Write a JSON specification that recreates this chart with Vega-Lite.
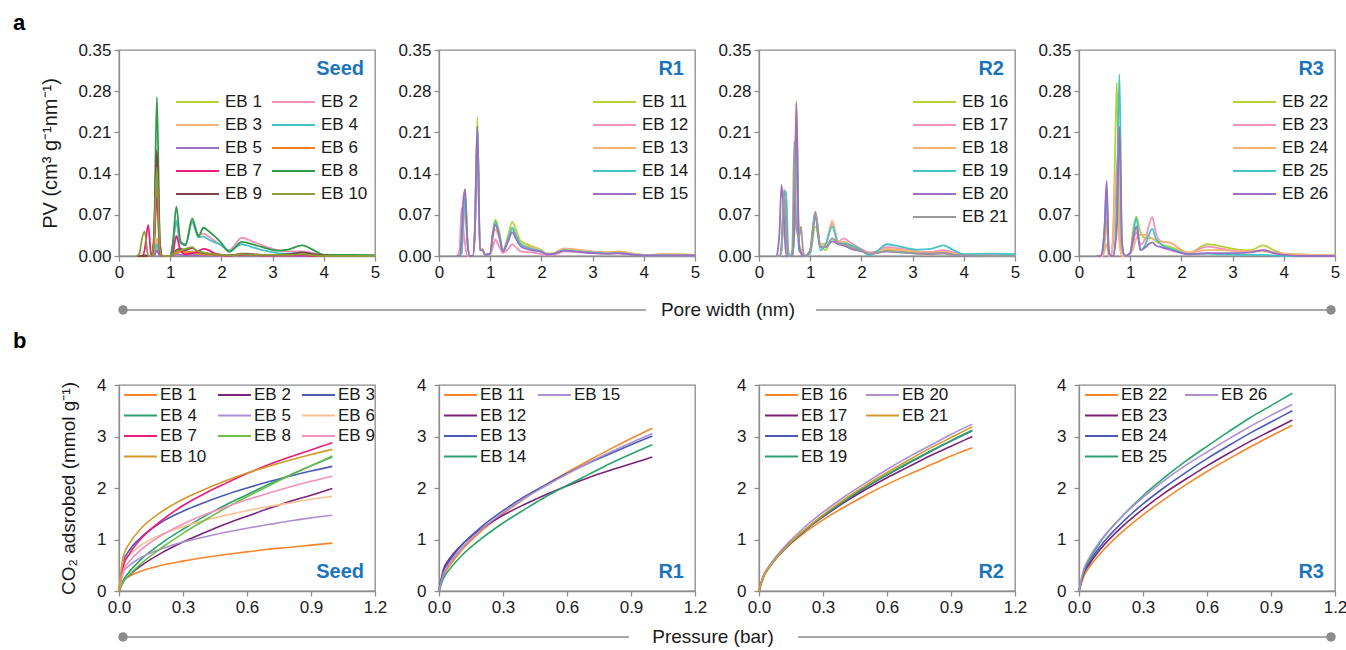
{
"$schema":"https://vega.github.io/schema/vega-lite/v6.json",
"padding":{"left":12,"top":11,"right":0,"bottom":0},
"autosize":{"type":"pad"},
"bounds":"flush",
"columns":4,
"spacing":{"row":129,"column":64},
"config":{
"font":"Liberation Sans",
"view":{"stroke":"#8c8c8c","strokeWidth":1.3},
"axis":{"grid":false,"domainColor":"#8c8c8c","domainWidth":1.3,"tickColor":"#8c8c8c","tickWidth":1.3,"tickSize":5,"labelFontSize":17,"labelColor":"#1a1a1a","labelPadding":3,"titleFontSize":19,"titleFontWeight":"normal","titleColor":"#1a1a1a","labelFlush":false,"labelOverlap":false},
"legend":{"labelFontSize":17,"labelColor":"#1a1a1a","symbolType":"stroke","padding":0,"titlePadding":0,"labelLimit":200}
},
"resolve":{"scale":{"color":"independent","stroke":"independent","x":"independent","y":"independent"},"axis":{"x":"independent","y":"independent"},"legend":{"color":"independent","stroke":"independent"}},
"datasets":{
"a1":[
{"x":0.35,"EB 1":0,"EB 2":0,"EB 3":0,"EB 4":0,"EB 5":0,"EB 6":0,"EB 7":0,"EB 8":0,"EB 9":0,"EB 10":0},
{"x":0.4,"EB 1":0,"EB 2":0,"EB 3":0,"EB 4":0,"EB 5":0,"EB 6":0,"EB 7":0,"EB 8":0,"EB 9":0,"EB 10":0.005},
{"x":0.45,"EB 1":0,"EB 2":0,"EB 3":0,"EB 4":0,"EB 5":0,"EB 6":0,"EB 7":0,"EB 8":0,"EB 9":0,"EB 10":0.03},
{"x":0.5,"EB 1":0,"EB 2":0,"EB 3":0,"EB 4":0,"EB 5":0.002,"EB 6":0,"EB 7":0.01,"EB 8":0,"EB 9":0,"EB 10":0.042},
{"x":0.57,"EB 1":0,"EB 2":0,"EB 3":0,"EB 4":0,"EB 5":0,"EB 6":0,"EB 7":0.053,"EB 8":0,"EB 9":0,"EB 10":0},
{"x":0.63,"EB 1":0,"EB 2":0,"EB 3":0,"EB 4":0,"EB 5":0,"EB 6":0,"EB 7":0,"EB 8":0,"EB 9":0,"EB 10":0},
{"x":0.68,"EB 1":0,"EB 2":0,"EB 3":0,"EB 4":0,"EB 5":0,"EB 6":0.01,"EB 7":0.02,"EB 8":0.02,"EB 9":0.03,"EB 10":0.02},
{"x":0.74,"EB 1":0.01,"EB 2":0.02,"EB 3":0.03,"EB 4":0.02,"EB 5":0.01,"EB 6":0.12,"EB 7":0.1,"EB 8":0.27,"EB 9":0.18,"EB 10":0.15},
{"x":0.8,"EB 1":0,"EB 2":0,"EB 3":0,"EB 4":0,"EB 5":0,"EB 6":0.005,"EB 7":0.005,"EB 8":0.02,"EB 9":0.02,"EB 10":0.01},
{"x":0.85,"EB 1":0,"EB 2":0,"EB 3":0,"EB 4":0,"EB 5":0,"EB 6":0,"EB 7":0,"EB 8":0,"EB 9":0,"EB 10":0},
{"x":0.9,"EB 1":0,"EB 2":0,"EB 3":0,"EB 4":0,"EB 5":0,"EB 6":0,"EB 7":0,"EB 8":0,"EB 9":0,"EB 10":0},
{"x":1.0,"EB 1":0,"EB 2":0,"EB 3":0,"EB 4":0,"EB 5":0,"EB 6":0,"EB 7":0,"EB 8":0,"EB 9":0,"EB 10":0},
{"x":1.05,"EB 1":0.002,"EB 2":0.02,"EB 3":0.002,"EB 4":0.02,"EB 5":0,"EB 6":0.002,"EB 7":0.005,"EB 8":0.02,"EB 9":0.003,"EB 10":0.003},
{"x":1.12,"EB 1":0.004,"EB 2":0.055,"EB 3":0.008,"EB 4":0.06,"EB 5":0.003,"EB 6":0.005,"EB 7":0.034,"EB 8":0.084,"EB 9":0.01,"EB 10":0.008},
{"x":1.2,"EB 1":0.002,"EB 2":0.022,"EB 3":0.006,"EB 4":0.022,"EB 5":0.002,"EB 6":0.008,"EB 7":0.01,"EB 8":0.025,"EB 9":0.012,"EB 10":0.01},
{"x":1.3,"EB 1":0.002,"EB 2":0.02,"EB 3":0.005,"EB 4":0.02,"EB 5":0.001,"EB 6":0.007,"EB 7":0.003,"EB 8":0.018,"EB 9":0.01,"EB 10":0.012},
{"x":1.43,"EB 1":0.004,"EB 2":0.06,"EB 3":0.008,"EB 4":0.057,"EB 5":0.002,"EB 6":0.006,"EB 7":0.005,"EB 8":0.064,"EB 9":0.014,"EB 10":0.015},
{"x":1.5,"EB 1":0.003,"EB 2":0.045,"EB 3":0.006,"EB 4":0.042,"EB 5":0.001,"EB 6":0.005,"EB 7":0.006,"EB 8":0.045,"EB 9":0.01,"EB 10":0.01},
{"x":1.55,"EB 1":0.002,"EB 2":0.036,"EB 3":0.005,"EB 4":0.032,"EB 5":0.001,"EB 6":0.004,"EB 7":0.008,"EB 8":0.033,"EB 9":0.007,"EB 10":0.008},
{"x":1.65,"EB 1":0.002,"EB 2":0.038,"EB 3":0.004,"EB 4":0.033,"EB 5":0.001,"EB 6":0.003,"EB 7":0.012,"EB 8":0.048,"EB 9":0.005,"EB 10":0.006},
{"x":1.75,"EB 1":0.002,"EB 2":0.033,"EB 3":0.003,"EB 4":0.028,"EB 5":0.001,"EB 6":0.002,"EB 7":0.01,"EB 8":0.042,"EB 9":0.004,"EB 10":0.004},
{"x":1.85,"EB 1":0.001,"EB 2":0.027,"EB 3":0.002,"EB 4":0.024,"EB 5":0,"EB 6":0.002,"EB 7":0.005,"EB 8":0.035,"EB 9":0.003,"EB 10":0.003},
{"x":2.0,"EB 1":0.001,"EB 2":0.018,"EB 3":0.001,"EB 4":0.018,"EB 5":0,"EB 6":0.001,"EB 7":0.002,"EB 8":0.022,"EB 9":0.002,"EB 10":0.002},
{"x":2.15,"EB 1":0,"EB 2":0.01,"EB 3":0,"EB 4":0.009,"EB 5":0,"EB 6":0.001,"EB 7":0.001,"EB 8":0.007,"EB 9":0.001,"EB 10":0.001},
{"x":2.4,"EB 1":0.002,"EB 2":0.031,"EB 3":0.002,"EB 4":0.02,"EB 5":0.001,"EB 6":0.002,"EB 7":0.002,"EB 8":0.024,"EB 9":0.004,"EB 10":0.003},
{"x":2.6,"EB 1":0.002,"EB 2":0.025,"EB 3":0.002,"EB 4":0.015,"EB 5":0.001,"EB 6":0.002,"EB 7":0.002,"EB 8":0.02,"EB 9":0.003,"EB 10":0.002},
{"x":2.8,"EB 1":0.001,"EB 2":0.018,"EB 3":0.001,"EB 4":0.01,"EB 5":0,"EB 6":0.001,"EB 7":0.001,"EB 8":0.015,"EB 9":0.002,"EB 10":0.002},
{"x":3.1,"EB 1":0.001,"EB 2":0.01,"EB 3":0.001,"EB 4":0.005,"EB 5":0,"EB 6":0.001,"EB 7":0.001,"EB 8":0.009,"EB 9":0.002,"EB 10":0.002},
{"x":3.3,"EB 1":0.001,"EB 2":0.008,"EB 3":0.001,"EB 4":0.004,"EB 5":0,"EB 6":0.001,"EB 7":0.001,"EB 8":0.011,"EB 9":0.003,"EB 10":0.002},
{"x":3.58,"EB 1":0.001,"EB 2":0.008,"EB 3":0.001,"EB 4":0.005,"EB 5":0,"EB 6":0.002,"EB 7":0.001,"EB 8":0.018,"EB 9":0.006,"EB 10":0.003},
{"x":3.8,"EB 1":0.001,"EB 2":0.005,"EB 3":0,"EB 4":0.003,"EB 5":0,"EB 6":0.001,"EB 7":0,"EB 8":0.01,"EB 9":0.003,"EB 10":0.001},
{"x":4.0,"EB 1":0,"EB 2":0.002,"EB 3":0,"EB 4":0.001,"EB 5":0,"EB 6":0,"EB 7":0,"EB 8":0.002,"EB 9":0.001,"EB 10":0},
{"x":4.5,"EB 1":0,"EB 2":0.001,"EB 3":0,"EB 4":0.001,"EB 5":0,"EB 6":0,"EB 7":0,"EB 8":0.002,"EB 9":0,"EB 10":0},
{"x":5.0,"EB 1":0,"EB 2":0.001,"EB 3":0,"EB 4":0.001,"EB 5":0,"EB 6":0,"EB 7":0,"EB 8":0.001,"EB 9":0,"EB 10":0}
],
"a2":[
{"x":0.35,"EB 11":0,"EB 12":0,"EB 13":0,"EB 14":0,"EB 15":0},
{"x":0.4,"EB 11":0,"EB 12":0.01,"EB 13":0,"EB 14":0,"EB 15":0},
{"x":0.44,"EB 11":0.005,"EB 12":0.082,"EB 13":0.005,"EB 14":0.005,"EB 15":0.03},
{"x":0.47,"EB 11":0.06,"EB 12":0.05,"EB 13":0.04,"EB 14":0.05,"EB 15":0.09},
{"x":0.51,"EB 11":0.114,"EB 12":0.02,"EB 13":0.1,"EB 14":0.1,"EB 15":0.113},
{"x":0.55,"EB 11":0.04,"EB 12":0,"EB 13":0.03,"EB 14":0.03,"EB 15":0.03},
{"x":0.6,"EB 11":0,"EB 12":0,"EB 13":0,"EB 14":0,"EB 15":0},
{"x":0.66,"EB 11":0,"EB 12":0,"EB 13":0,"EB 14":0,"EB 15":0},
{"x":0.7,"EB 11":0.05,"EB 12":0.04,"EB 13":0.04,"EB 14":0.04,"EB 15":0.04},
{"x":0.75,"EB 11":0.236,"EB 12":0.2,"EB 13":0.21,"EB 14":0.22,"EB 15":0.22},
{"x":0.8,"EB 11":0.01,"EB 12":0.01,"EB 13":0.01,"EB 14":0.01,"EB 15":0.01},
{"x":0.85,"EB 11":0.012,"EB 12":0.01,"EB 13":0.012,"EB 14":0.01,"EB 15":0.01},
{"x":0.9,"EB 11":0.002,"EB 12":0.002,"EB 13":0.002,"EB 14":0.002,"EB 15":0.002},
{"x":1.0,"EB 11":0.005,"EB 12":0.003,"EB 13":0.004,"EB 14":0.004,"EB 15":0.004},
{"x":1.05,"EB 11":0.04,"EB 12":0.015,"EB 13":0.03,"EB 14":0.038,"EB 15":0.035},
{"x":1.1,"EB 11":0.062,"EB 12":0.028,"EB 13":0.045,"EB 14":0.058,"EB 15":0.053},
{"x":1.18,"EB 11":0.04,"EB 12":0.015,"EB 13":0.03,"EB 14":0.035,"EB 15":0.032},
{"x":1.25,"EB 11":0.01,"EB 12":0.005,"EB 13":0.008,"EB 14":0.008,"EB 15":0.008},
{"x":1.35,"EB 11":0.035,"EB 12":0.012,"EB 13":0.03,"EB 14":0.03,"EB 15":0.025},
{"x":1.43,"EB 11":0.058,"EB 12":0.02,"EB 13":0.045,"EB 14":0.048,"EB 15":0.04},
{"x":1.5,"EB 11":0.045,"EB 12":0.015,"EB 13":0.035,"EB 14":0.036,"EB 15":0.03},
{"x":1.6,"EB 11":0.025,"EB 12":0.008,"EB 13":0.02,"EB 14":0.02,"EB 15":0.016},
{"x":1.8,"EB 11":0.017,"EB 12":0.006,"EB 13":0.015,"EB 14":0.012,"EB 15":0.01},
{"x":2.0,"EB 11":0.01,"EB 12":0.003,"EB 13":0.009,"EB 14":0.008,"EB 15":0.007},
{"x":2.1,"EB 11":0.004,"EB 12":0.001,"EB 13":0.004,"EB 14":0.003,"EB 15":0.003},
{"x":2.2,"EB 11":0.004,"EB 12":0.001,"EB 13":0.004,"EB 14":0.003,"EB 15":0.003},
{"x":2.45,"EB 11":0.012,"EB 12":0.008,"EB 13":0.013,"EB 14":0.01,"EB 15":0.009},
{"x":2.7,"EB 11":0.01,"EB 12":0.007,"EB 13":0.011,"EB 14":0.008,"EB 15":0.007},
{"x":3.0,"EB 11":0.007,"EB 12":0.005,"EB 13":0.008,"EB 14":0.006,"EB 15":0.005},
{"x":3.3,"EB 11":0.006,"EB 12":0.004,"EB 13":0.006,"EB 14":0.004,"EB 15":0.004},
{"x":3.5,"EB 11":0.008,"EB 12":0.004,"EB 13":0.007,"EB 14":0.005,"EB 15":0.005},
{"x":3.8,"EB 11":0.004,"EB 12":0.002,"EB 13":0.004,"EB 14":0.002,"EB 15":0.002},
{"x":4.0,"EB 11":0.002,"EB 12":0.001,"EB 13":0.002,"EB 14":0.001,"EB 15":0.001},
{"x":4.5,"EB 11":0.003,"EB 12":0.001,"EB 13":0.003,"EB 14":0.001,"EB 15":0.001},
{"x":5.0,"EB 11":0.002,"EB 12":0.001,"EB 13":0.002,"EB 14":0.001,"EB 15":0.001}
],
"a3":[
{"x":0.35,"EB 16":0,"EB 17":0,"EB 18":0,"EB 19":0,"EB 20":0,"EB 21":0},
{"x":0.4,"EB 16":0,"EB 17":0,"EB 18":0,"EB 19":0,"EB 20":0.04,"EB 21":0},
{"x":0.44,"EB 16":0.01,"EB 17":0.01,"EB 18":0.01,"EB 19":0.01,"EB 20":0.121,"EB 21":0.02},
{"x":0.49,"EB 16":0.1,"EB 17":0.1,"EB 18":0.1,"EB 19":0.1,"EB 20":0.06,"EB 21":0.113},
{"x":0.53,"EB 16":0.03,"EB 17":0.03,"EB 18":0.03,"EB 19":0.11,"EB 20":0,"EB 21":0.05},
{"x":0.57,"EB 16":0,"EB 17":0,"EB 18":0,"EB 19":0.01,"EB 20":0,"EB 21":0},
{"x":0.61,"EB 16":0,"EB 17":0,"EB 18":0,"EB 19":0,"EB 20":0,"EB 21":0},
{"x":0.65,"EB 16":0,"EB 17":0,"EB 18":0,"EB 19":0,"EB 20":0,"EB 21":0.01},
{"x":0.69,"EB 16":0.04,"EB 17":0.05,"EB 18":0.05,"EB 19":0.04,"EB 20":0.06,"EB 21":0.195},
{"x":0.73,"EB 16":0.2,"EB 17":0.24,"EB 18":0.264,"EB 19":0.183,"EB 20":0.26,"EB 21":0.05},
{"x":0.78,"EB 16":0.02,"EB 17":0.02,"EB 18":0.02,"EB 19":0.01,"EB 20":0.02,"EB 21":0.03},
{"x":0.82,"EB 16":0.01,"EB 17":0.01,"EB 18":0.01,"EB 19":0.005,"EB 20":0.005,"EB 21":0.05},
{"x":0.86,"EB 16":0,"EB 17":0,"EB 18":0,"EB 19":0,"EB 20":0,"EB 21":0.01},
{"x":0.9,"EB 16":0,"EB 17":0,"EB 18":0,"EB 19":0,"EB 20":0,"EB 21":0},
{"x":1.0,"EB 16":0.005,"EB 17":0.01,"EB 18":0.01,"EB 19":0.005,"EB 20":0.01,"EB 21":0.01},
{"x":1.1,"EB 16":0.05,"EB 17":0.075,"EB 18":0.075,"EB 19":0.065,"EB 20":0.07,"EB 21":0.075},
{"x":1.2,"EB 16":0.02,"EB 17":0.02,"EB 18":0.02,"EB 19":0.01,"EB 20":0.015,"EB 21":0.015},
{"x":1.3,"EB 16":0.01,"EB 17":0.02,"EB 18":0.02,"EB 19":0.02,"EB 20":0.015,"EB 21":0.015},
{"x":1.43,"EB 16":0.03,"EB 17":0.055,"EB 18":0.06,"EB 19":0.05,"EB 20":0.025,"EB 21":0.03},
{"x":1.55,"EB 16":0.02,"EB 17":0.025,"EB 18":0.022,"EB 19":0.02,"EB 20":0.02,"EB 21":0.022},
{"x":1.65,"EB 16":0.02,"EB 17":0.03,"EB 18":0.025,"EB 19":0.022,"EB 20":0.018,"EB 21":0.02},
{"x":1.8,"EB 16":0.015,"EB 17":0.022,"EB 18":0.018,"EB 19":0.018,"EB 20":0.012,"EB 21":0.014},
{"x":2.0,"EB 16":0.01,"EB 17":0.012,"EB 18":0.01,"EB 19":0.01,"EB 20":0.008,"EB 21":0.009},
{"x":2.15,"EB 16":0.005,"EB 17":0.006,"EB 18":0.005,"EB 19":0.001,"EB 20":0.004,"EB 21":0.004},
{"x":2.3,"EB 16":0.006,"EB 17":0.008,"EB 18":0.007,"EB 19":0.008,"EB 20":0.005,"EB 21":0.005},
{"x":2.5,"EB 16":0.01,"EB 17":0.015,"EB 18":0.012,"EB 19":0.02,"EB 20":0.008,"EB 21":0.008},
{"x":2.8,"EB 16":0.008,"EB 17":0.012,"EB 18":0.01,"EB 19":0.015,"EB 20":0.006,"EB 21":0.006},
{"x":3.1,"EB 16":0.006,"EB 17":0.008,"EB 18":0.007,"EB 19":0.011,"EB 20":0.004,"EB 21":0.004},
{"x":3.35,"EB 16":0.005,"EB 17":0.007,"EB 18":0.006,"EB 19":0.012,"EB 20":0.004,"EB 21":0.003},
{"x":3.6,"EB 16":0.008,"EB 17":0.01,"EB 18":0.007,"EB 19":0.018,"EB 20":0.005,"EB 21":0.004},
{"x":3.8,"EB 16":0.004,"EB 17":0.006,"EB 18":0.004,"EB 19":0.01,"EB 20":0.002,"EB 21":0.002},
{"x":4.0,"EB 16":0.002,"EB 17":0.002,"EB 18":0.002,"EB 19":0.003,"EB 20":0.001,"EB 21":0.001},
{"x":4.5,"EB 16":0.001,"EB 17":0.002,"EB 18":0.001,"EB 19":0.004,"EB 20":0,"EB 21":0},
{"x":5.0,"EB 16":0.001,"EB 17":0.002,"EB 18":0.001,"EB 19":0.003,"EB 20":0,"EB 21":0}
],
"a4":[
{"x":0.35,"EB 22":0,"EB 23":0,"EB 24":0,"EB 25":0,"EB 26":0},
{"x":0.42,"EB 22":0,"EB 23":0,"EB 24":0,"EB 25":0,"EB 26":0},
{"x":0.46,"EB 22":0,"EB 23":0,"EB 24":0,"EB 25":0.01,"EB 26":0.01},
{"x":0.5,"EB 22":0.02,"EB 23":0.03,"EB 24":0.01,"EB 25":0.05,"EB 26":0.05},
{"x":0.54,"EB 22":0.06,"EB 23":0.1,"EB 24":0.02,"EB 25":0.115,"EB 26":0.128},
{"x":0.58,"EB 22":0,"EB 23":0.01,"EB 24":0,"EB 25":0.01,"EB 26":0.01},
{"x":0.62,"EB 22":0,"EB 23":0,"EB 24":0,"EB 25":0,"EB 26":0},
{"x":0.67,"EB 22":0.05,"EB 23":0.03,"EB 24":0.04,"EB 25":0,"EB 26":0},
{"x":0.71,"EB 22":0.2,"EB 23":0.1,"EB 24":0.14,"EB 25":0.03,"EB 26":0.02},
{"x":0.74,"EB 22":0.295,"EB 23":0.15,"EB 24":0.1,"EB 25":0.1,"EB 26":0.05},
{"x":0.79,"EB 22":0.05,"EB 23":0.18,"EB 24":0.02,"EB 25":0.309,"EB 26":0.22},
{"x":0.84,"EB 22":0,"EB 23":0.01,"EB 24":0,"EB 25":0.02,"EB 26":0.02},
{"x":0.9,"EB 22":0,"EB 23":0,"EB 24":0,"EB 25":0,"EB 26":0},
{"x":1.0,"EB 22":0.005,"EB 23":0.005,"EB 24":0.005,"EB 25":0.005,"EB 26":0.005},
{"x":1.05,"EB 22":0.04,"EB 23":0.02,"EB 24":0.01,"EB 25":0.03,"EB 26":0.025},
{"x":1.12,"EB 22":0.067,"EB 23":0.04,"EB 24":0.03,"EB 25":0.065,"EB 26":0.05},
{"x":1.2,"EB 22":0.04,"EB 23":0.02,"EB 24":0.036,"EB 25":0.01,"EB 26":0.01},
{"x":1.3,"EB 22":0.03,"EB 23":0.03,"EB 24":0.036,"EB 25":0.02,"EB 26":0.015},
{"x":1.36,"EB 22":0.03,"EB 23":0.05,"EB 24":0.033,"EB 25":0.035,"EB 26":0.02},
{"x":1.43,"EB 22":0.03,"EB 23":0.066,"EB 24":0.03,"EB 25":0.046,"EB 26":0.023},
{"x":1.5,"EB 22":0.025,"EB 23":0.04,"EB 24":0.027,"EB 25":0.03,"EB 26":0.018},
{"x":1.6,"EB 22":0.02,"EB 23":0.025,"EB 24":0.025,"EB 25":0.02,"EB 26":0.015},
{"x":1.8,"EB 22":0.015,"EB 23":0.022,"EB 24":0.022,"EB 25":0.012,"EB 26":0.01},
{"x":2.0,"EB 22":0.008,"EB 23":0.01,"EB 24":0.01,"EB 25":0.006,"EB 26":0.005},
{"x":2.15,"EB 22":0.005,"EB 23":0.005,"EB 24":0.006,"EB 25":0.003,"EB 26":0.003},
{"x":2.5,"EB 22":0.02,"EB 23":0.016,"EB 24":0.01,"EB 25":0.004,"EB 26":0.005},
{"x":2.8,"EB 22":0.016,"EB 23":0.012,"EB 24":0.01,"EB 25":0.003,"EB 26":0.005},
{"x":3.1,"EB 22":0.011,"EB 23":0.008,"EB 24":0.009,"EB 25":0.002,"EB 26":0.005},
{"x":3.35,"EB 22":0.01,"EB 23":0.008,"EB 24":0.008,"EB 25":0.002,"EB 26":0.006},
{"x":3.6,"EB 22":0.018,"EB 23":0.01,"EB 24":0.008,"EB 25":0.002,"EB 26":0.01},
{"x":3.8,"EB 22":0.01,"EB 23":0.006,"EB 24":0.005,"EB 25":0.001,"EB 26":0.005},
{"x":4.0,"EB 22":0.004,"EB 23":0.003,"EB 24":0.004,"EB 25":0,"EB 26":0.002},
{"x":4.5,"EB 22":0.002,"EB 23":0.001,"EB 24":0.002,"EB 25":0,"EB 26":0},
{"x":5.0,"EB 22":0.001,"EB 23":0.001,"EB 24":0.001,"EB 25":0,"EB 26":0}
],
"b1":[
{"p":0,"EB 1":0,"EB 2":0,"EB 3":0,"EB 4":0,"EB 5":0,"EB 6":0,"EB 7":0,"EB 8":0,"EB 9":0,"EB 10":0},
{"p":0.02,"EB 1":0.2,"EB 2":0.18,"EB 3":0.57,"EB 4":0.21,"EB 5":0.36,"EB 6":0.53,"EB 7":0.48,"EB 8":0.17,"EB 9":0.39,"EB 10":0.67},
{"p":0.05,"EB 1":0.29,"EB 2":0.31,"EB 3":0.8,"EB 4":0.38,"EB 5":0.5,"EB 6":0.7,"EB 7":0.73,"EB 8":0.32,"EB 9":0.58,"EB 10":0.93},
{"p":0.1,"EB 1":0.38,"EB 2":0.48,"EB 3":1.03,"EB 4":0.6,"EB 5":0.64,"EB 6":0.88,"EB 7":1.0,"EB 8":0.52,"EB 9":0.79,"EB 10":1.2},
{"p":0.2,"EB 1":0.5,"EB 2":0.74,"EB 3":1.34,"EB 4":0.93,"EB 5":0.82,"EB 6":1.1,"EB 7":1.37,"EB 8":0.84,"EB 9":1.08,"EB 10":1.54},
{"p":0.3,"EB 1":0.58,"EB 2":0.95,"EB 3":1.55,"EB 4":1.2,"EB 5":0.95,"EB 6":1.25,"EB 7":1.66,"EB 8":1.12,"EB 9":1.3,"EB 10":1.78},
{"p":0.4,"EB 1":0.65,"EB 2":1.13,"EB 3":1.72,"EB 4":1.45,"EB 5":1.05,"EB 6":1.37,"EB 7":1.89,"EB 8":1.37,"EB 9":1.48,"EB 10":1.97},
{"p":0.5,"EB 1":0.71,"EB 2":1.3,"EB 3":1.87,"EB 4":1.67,"EB 5":1.14,"EB 6":1.47,"EB 7":2.09,"EB 8":1.61,"EB 9":1.63,"EB 10":2.14},
{"p":0.6,"EB 1":0.76,"EB 2":1.45,"EB 3":2.0,"EB 4":1.87,"EB 5":1.22,"EB 6":1.56,"EB 7":2.28,"EB 8":1.83,"EB 9":1.77,"EB 10":2.29},
{"p":0.7,"EB 1":0.81,"EB 2":1.6,"EB 3":2.12,"EB 4":2.07,"EB 5":1.29,"EB 6":1.64,"EB 7":2.45,"EB 8":2.04,"EB 9":1.9,"EB 10":2.42},
{"p":0.8,"EB 1":0.85,"EB 2":1.74,"EB 3":2.23,"EB 4":2.25,"EB 5":1.36,"EB 6":1.71,"EB 7":2.6,"EB 8":2.24,"EB 9":2.02,"EB 10":2.54},
{"p":0.9,"EB 1":0.89,"EB 2":1.86,"EB 3":2.33,"EB 4":2.43,"EB 5":1.42,"EB 6":1.78,"EB 7":2.74,"EB 8":2.43,"EB 9":2.13,"EB 10":2.65},
{"p":1.0,"EB 1":0.93,"EB 2":1.99,"EB 3":2.42,"EB 4":2.6,"EB 5":1.47,"EB 6":1.84,"EB 7":2.88,"EB 8":2.62,"EB 9":2.23,"EB 10":2.75}
],
"b2":[
{"p":0,"EB 11":0,"EB 12":0,"EB 13":0,"EB 14":0,"EB 15":0},
{"p":0.02,"EB 11":0.28,"EB 12":0.41,"EB 13":0.36,"EB 14":0.24,"EB 15":0.32},
{"p":0.05,"EB 11":0.49,"EB 12":0.63,"EB 13":0.59,"EB 14":0.42,"EB 15":0.54},
{"p":0.1,"EB 11":0.76,"EB 12":0.87,"EB 13":0.86,"EB 14":0.66,"EB 15":0.8},
{"p":0.2,"EB 11":1.17,"EB 12":1.21,"EB 13":1.25,"EB 14":1.02,"EB 15":1.2},
{"p":0.3,"EB 11":1.5,"EB 12":1.47,"EB 13":1.56,"EB 14":1.32,"EB 15":1.52},
{"p":0.4,"EB 11":1.79,"EB 12":1.68,"EB 13":1.83,"EB 14":1.58,"EB 15":1.8},
{"p":0.5,"EB 11":2.06,"EB 12":1.87,"EB 13":2.06,"EB 14":1.83,"EB 15":2.04},
{"p":0.6,"EB 11":2.3,"EB 12":2.04,"EB 13":2.28,"EB 14":2.05,"EB 15":2.27},
{"p":0.7,"EB 11":2.53,"EB 12":2.2,"EB 13":2.48,"EB 14":2.26,"EB 15":2.49},
{"p":0.8,"EB 11":2.75,"EB 12":2.34,"EB 13":2.66,"EB 14":2.47,"EB 15":2.69},
{"p":0.9,"EB 11":2.96,"EB 12":2.47,"EB 13":2.84,"EB 14":2.66,"EB 15":2.88},
{"p":1.0,"EB 11":3.16,"EB 12":2.6,"EB 13":3.01,"EB 14":2.84,"EB 15":3.06}
],
"b3":[
{"p":0,"EB 16":0,"EB 17":0,"EB 18":0,"EB 19":0,"EB 20":0,"EB 21":0},
{"p":0.02,"EB 16":0.29,"EB 17":0.28,"EB 18":0.26,"EB 19":0.27,"EB 20":0.28,"EB 21":0.26},
{"p":0.05,"EB 16":0.49,"EB 17":0.48,"EB 18":0.47,"EB 19":0.47,"EB 20":0.5,"EB 21":0.47},
{"p":0.1,"EB 16":0.73,"EB 17":0.74,"EB 18":0.72,"EB 19":0.73,"EB 20":0.77,"EB 21":0.73},
{"p":0.2,"EB 16":1.09,"EB 17":1.13,"EB 18":1.12,"EB 19":1.13,"EB 20":1.19,"EB 21":1.14},
{"p":0.3,"EB 16":1.38,"EB 17":1.44,"EB 18":1.45,"EB 19":1.46,"EB 20":1.53,"EB 21":1.48},
{"p":0.4,"EB 16":1.63,"EB 17":1.72,"EB 18":1.74,"EB 19":1.75,"EB 20":1.83,"EB 21":1.78},
{"p":0.5,"EB 16":1.86,"EB 17":1.97,"EB 18":2.01,"EB 19":2.02,"EB 20":2.1,"EB 21":2.05},
{"p":0.6,"EB 16":2.07,"EB 17":2.2,"EB 18":2.25,"EB 19":2.26,"EB 20":2.36,"EB 21":2.3},
{"p":0.7,"EB 16":2.26,"EB 17":2.41,"EB 18":2.48,"EB 19":2.49,"EB 20":2.6,"EB 21":2.54},
{"p":0.8,"EB 16":2.44,"EB 17":2.62,"EB 18":2.7,"EB 19":2.71,"EB 20":2.82,"EB 21":2.77},
{"p":0.9,"EB 16":2.62,"EB 17":2.81,"EB 18":2.91,"EB 19":2.92,"EB 20":3.04,"EB 21":2.98},
{"p":1.0,"EB 16":2.78,"EB 17":3.0,"EB 18":3.11,"EB 19":3.12,"EB 20":3.24,"EB 21":3.19}
],
"b4":[
{"p":0,"EB 22":0,"EB 23":0,"EB 24":0,"EB 25":0,"EB 26":0},
{"p":0.02,"EB 22":0.26,"EB 23":0.31,"EB 24":0.33,"EB 25":0.36,"EB 26":0.39},
{"p":0.05,"EB 22":0.47,"EB 23":0.53,"EB 24":0.57,"EB 25":0.62,"EB 26":0.66},
{"p":0.1,"EB 22":0.73,"EB 23":0.81,"EB 24":0.87,"EB 25":0.95,"EB 26":0.97},
{"p":0.2,"EB 22":1.14,"EB 23":1.24,"EB 24":1.32,"EB 25":1.44,"EB 26":1.44},
{"p":0.3,"EB 22":1.48,"EB 23":1.59,"EB 24":1.69,"EB 25":1.85,"EB 26":1.82},
{"p":0.4,"EB 22":1.78,"EB 23":1.9,"EB 24":2.01,"EB 25":2.2,"EB 26":2.15},
{"p":0.5,"EB 22":2.06,"EB 23":2.17,"EB 24":2.3,"EB 25":2.52,"EB 26":2.44},
{"p":0.6,"EB 22":2.32,"EB 23":2.43,"EB 24":2.57,"EB 25":2.81,"EB 26":2.7},
{"p":0.7,"EB 22":2.56,"EB 23":2.67,"EB 24":2.82,"EB 25":3.09,"EB 26":2.95},
{"p":0.8,"EB 22":2.79,"EB 23":2.9,"EB 24":3.06,"EB 25":3.36,"EB 26":3.19},
{"p":0.9,"EB 22":3.01,"EB 23":3.11,"EB 24":3.28,"EB 25":3.6,"EB 26":3.41},
{"p":1.0,"EB 22":3.22,"EB 23":3.32,"EB 24":3.5,"EB 25":3.84,"EB 26":3.62}
]
},
"concat":[
{
"width":256,"height":206,
"title":{"text":"a","anchor":"start","frame":"group","dx":-106,"offset":6,"fontSize":22,"fontWeight":"bold","color":"#000000"},
"layer":[
{"layer":[
{"data":{"name":"a1"},
"transform":[{"fold":["EB 1","EB 2","EB 3","EB 4","EB 5","EB 6","EB 7","EB 8","EB 9","EB 10"],"as":["s","v"]}],
"mark":{"type":"line","interpolate":"monotone","strokeWidth":1.8},
"encoding":{
"x":{"field":"x","type":"quantitative","scale":{"domain":[0,5],"nice":false},"axis":{"values":[0,1,2,3,4,5],"title":null}},
"y":{"field":"v","type":"quantitative","scale":{"domain":[0,0.35],"nice":false},"axis":{"values":[0,0.07,0.14,0.21,0.28,0.35],"format":".2f","title":"PV (cm³ g⁻¹nm⁻¹)","titlePadding":17,"titleFontSize":20}},
"color":{"field":"s","type":"nominal","scale":{"domain":["EB 1","EB 2","EB 3","EB 4","EB 5","EB 6","EB 7","EB 8","EB 9","EB 10"],"range":["#b5d334","#f391bd","#f7b27a","#45c3c6","#9b6fc3","#f07f22","#ec1c7c","#2d9c47","#7d4544","#8f9b3c"]},
"legend":{"orient":"none","direction":"horizontal","legendX":56,"legendY":43,"columns":2,"title":null,"symbolSize":1849,"symbolStrokeWidth":2,"clipHeight":18,"rowPadding":5,"columnPadding":9,"labelOffset":5}}
}},
{"data":{"values":[{}]},
"mark":{"type":"text","text":"Seed","align":"right","baseline":"top","dx":-11,"dy":9,"fontSize":20,"fontWeight":"bold","color":"#1c75bc"},
"encoding":{"x":{"datum":5,"type":"quantitative"},"y":{"datum":0.35,"type":"quantitative"}}}
]},
{"data":{"values":[{}]},
"layer":[
{"mark":{"type":"rule","color":"#8c8c8c","strokeWidth":1.5},"encoding":{"x":{"datum":0.0033,"type":"quantitative","scale":{"domain":[0,0.21053],"nice":false,"zero":false},"axis":null},"x2":{"datum":0.4334},"y":{"datum":-0.262,"type":"quantitative","scale":{"domain":[0,1],"nice":false},"axis":null}}},
{"mark":{"type":"rule","color":"#8c8c8c","strokeWidth":1.5},"encoding":{"x":{"datum":0.5732,"type":"quantitative"},"x2":{"datum":0.9967},"y":{"datum":-0.262,"type":"quantitative"}}},
{"mark":{"type":"circle","color":"#8c8c8c","size":90,"opacity":1},"encoding":{"x":{"datum":0.0033,"type":"quantitative"},"y":{"datum":-0.262,"type":"quantitative"}}},
{"mark":{"type":"circle","color":"#8c8c8c","size":90,"opacity":1},"encoding":{"x":{"datum":0.9967,"type":"quantitative"},"y":{"datum":-0.262,"type":"quantitative"}}},
{"mark":{"type":"text","text":"Pore width (nm)","fontSize":19,"color":"#1a1a1a","baseline":"middle"},"encoding":{"x":{"datum":0.5008,"type":"quantitative"},"y":{"datum":-0.262,"type":"quantitative"}}}
]}
],
"resolve":{"scale":{"x":"independent","y":"independent"}}
},
{
"width":256,"height":206,
"layer":[
{"data":{"name":"a2"},
"transform":[{"fold":["EB 11","EB 12","EB 13","EB 14","EB 15"],"as":["s","v"]}],
"mark":{"type":"line","interpolate":"monotone","strokeWidth":1.8},
"encoding":{
"x":{"field":"x","type":"quantitative","scale":{"domain":[0,5],"nice":false},"axis":{"values":[0,1,2,3,4,5],"title":null}},
"y":{"field":"v","type":"quantitative","scale":{"domain":[0,0.35],"nice":false},"axis":{"values":[0,0.07,0.14,0.21,0.28,0.35],"format":".2f","title":null}},
"color":{"field":"s","type":"nominal","scale":{"domain":["EB 11","EB 12","EB 13","EB 14","EB 15"],"range":["#b5d334","#f391bd","#f7b27a","#45c3c6","#9b6fc3"]},
"legend":{"orient":"none","legendX":153,"legendY":43,"title":null,"symbolSize":1849,"symbolStrokeWidth":2,"clipHeight":18,"rowPadding":5,"labelOffset":5}}
}},
{"data":{"values":[{}]},
"mark":{"type":"text","text":"R1","align":"right","baseline":"top","dx":-11,"dy":9,"fontSize":20,"fontWeight":"bold","color":"#1c75bc"},
"encoding":{"x":{"datum":5,"type":"quantitative"},"y":{"datum":0.35,"type":"quantitative"}}}
]
},
{
"width":256,"height":206,
"layer":[
{"data":{"name":"a3"},
"transform":[{"fold":["EB 16","EB 17","EB 18","EB 19","EB 20","EB 21"],"as":["s","v"]}],
"mark":{"type":"line","interpolate":"monotone","strokeWidth":1.8},
"encoding":{
"x":{"field":"x","type":"quantitative","scale":{"domain":[0,5],"nice":false},"axis":{"values":[0,1,2,3,4,5],"title":null}},
"y":{"field":"v","type":"quantitative","scale":{"domain":[0,0.35],"nice":false},"axis":{"values":[0,0.07,0.14,0.21,0.28,0.35],"format":".2f","title":null}},
"color":{"field":"s","type":"nominal","scale":{"domain":["EB 16","EB 17","EB 18","EB 19","EB 20","EB 21"],"range":["#b5d334","#f391bd","#f7b27a","#45c3c6","#9b6fc3","#9a9a9a"]},
"legend":{"orient":"none","legendX":153,"legendY":43,"title":null,"symbolSize":1849,"symbolStrokeWidth":2,"clipHeight":18,"rowPadding":5,"labelOffset":5}}
}},
{"data":{"values":[{}]},
"mark":{"type":"text","text":"R2","align":"right","baseline":"top","dx":-11,"dy":9,"fontSize":20,"fontWeight":"bold","color":"#1c75bc"},
"encoding":{"x":{"datum":5,"type":"quantitative"},"y":{"datum":0.35,"type":"quantitative"}}}
]
},
{
"width":256,"height":206,
"layer":[
{"data":{"name":"a4"},
"transform":[{"fold":["EB 22","EB 23","EB 24","EB 25","EB 26"],"as":["s","v"]}],
"mark":{"type":"line","interpolate":"monotone","strokeWidth":1.8},
"encoding":{
"x":{"field":"x","type":"quantitative","scale":{"domain":[0,5],"nice":false},"axis":{"values":[0,1,2,3,4,5],"title":null}},
"y":{"field":"v","type":"quantitative","scale":{"domain":[0,0.35],"nice":false},"axis":{"values":[0,0.07,0.14,0.21,0.28,0.35],"format":".2f","title":null}},
"color":{"field":"s","type":"nominal","scale":{"domain":["EB 22","EB 23","EB 24","EB 25","EB 26"],"range":["#b5d334","#f391bd","#f7b27a","#45c3c6","#9b6fc3"]},
"legend":{"orient":"none","legendX":153,"legendY":43,"title":null,"symbolSize":1849,"symbolStrokeWidth":2,"clipHeight":18,"rowPadding":5,"labelOffset":5}}
}},
{"data":{"values":[{}]},
"mark":{"type":"text","text":"R3","align":"right","baseline":"top","dx":-11,"dy":9,"fontSize":20,"fontWeight":"bold","color":"#1c75bc"},
"encoding":{"x":{"datum":5,"type":"quantitative"},"y":{"datum":0.35,"type":"quantitative"}}}
]
},
{
"width":256,"height":206,
"title":{"text":"b","anchor":"start","frame":"group","dx":-106,"offset":23,"fontSize":22,"fontWeight":"bold","color":"#000000"},
"layer":[
{"layer":[
{"data":{"name":"b1"},
"transform":[{"fold":["EB 1","EB 2","EB 3","EB 4","EB 5","EB 6","EB 7","EB 8","EB 9","EB 10"],"as":["s","v"]}],
"mark":{"type":"line","interpolate":"monotone","strokeWidth":1.6},
"encoding":{
"x":{"field":"p","type":"quantitative","scale":{"domain":[0,1.2],"nice":false},"axis":{"values":[0,0.3,0.6,0.9,1.2],"format":".1f","title":null}},
"y":{"field":"v","type":"quantitative","scale":{"domain":[0,4],"nice":false},"axis":{"values":[0,1,2,3,4],"format":"d","labelPadding":8,"title":"CO₂ adsrobed (mmol g⁻¹)","titlePadding":18}},
"color":{"field":"s","type":"nominal","scale":{"domain":["EB 1","EB 2","EB 3","EB 4","EB 5","EB 6","EB 7","EB 8","EB 9","EB 10"],"range":["#f7862a","#7b2379","#4b5bb5","#2aa36b","#ad8fd2","#f9c08f","#ec1c7c","#6cc04a","#f391bd","#d29a2b"]},
"legend":{"orient":"none","direction":"horizontal","legendX":4,"legendY":2,"columns":3,"title":null,"symbolSize":1089,"symbolStrokeWidth":2,"clipHeight":16,"rowPadding":3.5,"columnPadding":10,"labelOffset":2}}
}},
{"data":{"values":[{}]},
"mark":{"type":"text","text":"Seed","align":"right","baseline":"alphabetic","dx":-11,"dy":-13,"fontSize":20,"fontWeight":"bold","color":"#1c75bc"},
"encoding":{"x":{"datum":1.2,"type":"quantitative"},"y":{"datum":0,"type":"quantitative"}}}
]},
{"data":{"values":[{}]},
"layer":[
{"mark":{"type":"rule","color":"#8c8c8c","strokeWidth":1.5},"encoding":{"x":{"datum":0.0033,"type":"quantitative","scale":{"domain":[0,0.21053],"nice":false,"zero":false},"axis":null},"x2":{"datum":0.4194},"y":{"datum":-0.223,"type":"quantitative","scale":{"domain":[0,1],"nice":false},"axis":null}}},
{"mark":{"type":"rule","color":"#8c8c8c","strokeWidth":1.5},"encoding":{"x":{"datum":0.5584,"type":"quantitative"},"x2":{"datum":0.9967},"y":{"datum":-0.223,"type":"quantitative"}}},
{"mark":{"type":"circle","color":"#8c8c8c","size":90,"opacity":1},"encoding":{"x":{"datum":0.0033,"type":"quantitative"},"y":{"datum":-0.223,"type":"quantitative"}}},
{"mark":{"type":"circle","color":"#8c8c8c","size":90,"opacity":1},"encoding":{"x":{"datum":0.9967,"type":"quantitative"},"y":{"datum":-0.223,"type":"quantitative"}}},
{"mark":{"type":"text","text":"Pressure (bar)","fontSize":19,"color":"#1a1a1a","baseline":"middle"},"encoding":{"x":{"datum":0.4885,"type":"quantitative"},"y":{"datum":-0.223,"type":"quantitative"}}}
]}
],
"resolve":{"scale":{"x":"independent","y":"independent"}}
},
{
"width":256,"height":206,
"layer":[
{"data":{"name":"b2"},
"transform":[{"fold":["EB 11","EB 12","EB 13","EB 14","EB 15"],"as":["s","v"]},{"filter":{"field":"s","oneOf":["EB 11","EB 12","EB 13","EB 14"]}}],
"mark":{"type":"line","interpolate":"monotone","strokeWidth":1.6},
"encoding":{
"x":{"field":"p","type":"quantitative","scale":{"domain":[0,1.2],"nice":false},"axis":{"values":[0,0.3,0.6,0.9,1.2],"format":".1f","title":null}},
"y":{"field":"v","type":"quantitative","scale":{"domain":[0,4],"nice":false},"axis":{"values":[0,1,2,3,4],"format":"d","labelPadding":8,"title":null}},
"color":{"field":"s","type":"nominal","scale":{"domain":["EB 11","EB 12","EB 13","EB 14"],"range":["#f7862a","#7b2379","#4b5bb5","#2aa36b"]},
"legend":{"orient":"none","legendX":4,"legendY":2,"title":null,"symbolSize":1089,"symbolStrokeWidth":2,"clipHeight":16,"rowPadding":3.5,"labelOffset":2}}
}},
{"data":{"name":"b2"},
"transform":[{"fold":["EB 11","EB 12","EB 13","EB 14","EB 15"],"as":["s","v"]},{"filter":{"field":"s","oneOf":["EB 15"]}}],
"mark":{"type":"line","interpolate":"monotone","strokeWidth":1.6},
"encoding":{
"x":{"field":"p","type":"quantitative"},
"y":{"field":"v","type":"quantitative"},
"stroke":{"field":"s","type":"nominal","scale":{"domain":["EB 15"],"range":["#ad8fd2"]},
"legend":{"orient":"none","legendX":98,"legendY":2,"title":null,"symbolType":"stroke","symbolSize":1089,"symbolStrokeWidth":2,"clipHeight":16,"rowPadding":3.5,"labelOffset":2}}
}},
{"data":{"values":[{}]},
"mark":{"type":"text","text":"R1","align":"right","baseline":"alphabetic","dx":-11,"dy":-13,"fontSize":20,"fontWeight":"bold","color":"#1c75bc"},
"encoding":{"x":{"datum":1.2,"type":"quantitative"},"y":{"datum":0,"type":"quantitative"}}}
]
},
{
"width":256,"height":206,
"layer":[
{"data":{"name":"b3"},
"transform":[{"fold":["EB 16","EB 17","EB 18","EB 19","EB 20","EB 21"],"as":["s","v"]},{"filter":{"field":"s","oneOf":["EB 16","EB 17","EB 18","EB 19"]}}],
"mark":{"type":"line","interpolate":"monotone","strokeWidth":1.6},
"encoding":{
"x":{"field":"p","type":"quantitative","scale":{"domain":[0,1.2],"nice":false},"axis":{"values":[0,0.3,0.6,0.9,1.2],"format":".1f","title":null}},
"y":{"field":"v","type":"quantitative","scale":{"domain":[0,4],"nice":false},"axis":{"values":[0,1,2,3,4],"format":"d","labelPadding":8,"title":null}},
"color":{"field":"s","type":"nominal","scale":{"domain":["EB 16","EB 17","EB 18","EB 19"],"range":["#f7862a","#7b2379","#4b5bb5","#2aa36b"]},
"legend":{"orient":"none","legendX":5,"legendY":2,"title":null,"symbolSize":1089,"symbolStrokeWidth":2,"clipHeight":16,"rowPadding":3.5,"labelOffset":2}}
}},
{"data":{"name":"b3"},
"transform":[{"fold":["EB 16","EB 17","EB 18","EB 19","EB 20","EB 21"],"as":["s","v"]},{"filter":{"field":"s","oneOf":["EB 20","EB 21"]}}],
"mark":{"type":"line","interpolate":"monotone","strokeWidth":1.6},
"encoding":{
"x":{"field":"p","type":"quantitative"},
"y":{"field":"v","type":"quantitative"},
"stroke":{"field":"s","type":"nominal","scale":{"domain":["EB 20","EB 21"],"range":["#ad8fd2","#d29a2b"]},
"legend":{"orient":"none","legendX":106,"legendY":2,"title":null,"symbolType":"stroke","symbolSize":1089,"symbolStrokeWidth":2,"clipHeight":16,"rowPadding":3.5,"labelOffset":2}}
}},
{"data":{"values":[{}]},
"mark":{"type":"text","text":"R2","align":"right","baseline":"alphabetic","dx":-11,"dy":-13,"fontSize":20,"fontWeight":"bold","color":"#1c75bc"},
"encoding":{"x":{"datum":1.2,"type":"quantitative"},"y":{"datum":0,"type":"quantitative"}}}
]
},
{
"width":256,"height":206,
"layer":[
{"data":{"name":"b4"},
"transform":[{"fold":["EB 22","EB 23","EB 24","EB 25","EB 26"],"as":["s","v"]},{"filter":{"field":"s","oneOf":["EB 22","EB 23","EB 24","EB 25"]}}],
"mark":{"type":"line","interpolate":"monotone","strokeWidth":1.6},
"encoding":{
"x":{"field":"p","type":"quantitative","scale":{"domain":[0,1.2],"nice":false},"axis":{"values":[0,0.3,0.6,0.9,1.2],"format":".1f","title":null}},
"y":{"field":"v","type":"quantitative","scale":{"domain":[0,4],"nice":false},"axis":{"values":[0,1,2,3,4],"format":"d","labelPadding":8,"title":null}},
"color":{"field":"s","type":"nominal","scale":{"domain":["EB 22","EB 23","EB 24","EB 25"],"range":["#f7862a","#7b2379","#4b5bb5","#2aa36b"]},
"legend":{"orient":"none","legendX":5,"legendY":2,"title":null,"symbolSize":1089,"symbolStrokeWidth":2,"clipHeight":16,"rowPadding":3.5,"labelOffset":2}}
}},
{"data":{"name":"b4"},
"transform":[{"fold":["EB 22","EB 23","EB 24","EB 25","EB 26"],"as":["s","v"]},{"filter":{"field":"s","oneOf":["EB 26"]}}],
"mark":{"type":"line","interpolate":"monotone","strokeWidth":1.6},
"encoding":{
"x":{"field":"p","type":"quantitative"},
"y":{"field":"v","type":"quantitative"},
"stroke":{"field":"s","type":"nominal","scale":{"domain":["EB 26"],"range":["#ad8fd2"]},
"legend":{"orient":"none","legendX":105,"legendY":2,"title":null,"symbolType":"stroke","symbolSize":1089,"symbolStrokeWidth":2,"clipHeight":16,"rowPadding":3.5,"labelOffset":2}}
}},
{"data":{"values":[{}]},
"mark":{"type":"text","text":"R3","align":"right","baseline":"alphabetic","dx":-11,"dy":-13,"fontSize":20,"fontWeight":"bold","color":"#1c75bc"},
"encoding":{"x":{"datum":1.2,"type":"quantitative"},"y":{"datum":0,"type":"quantitative"}}}
]
}
]
}
